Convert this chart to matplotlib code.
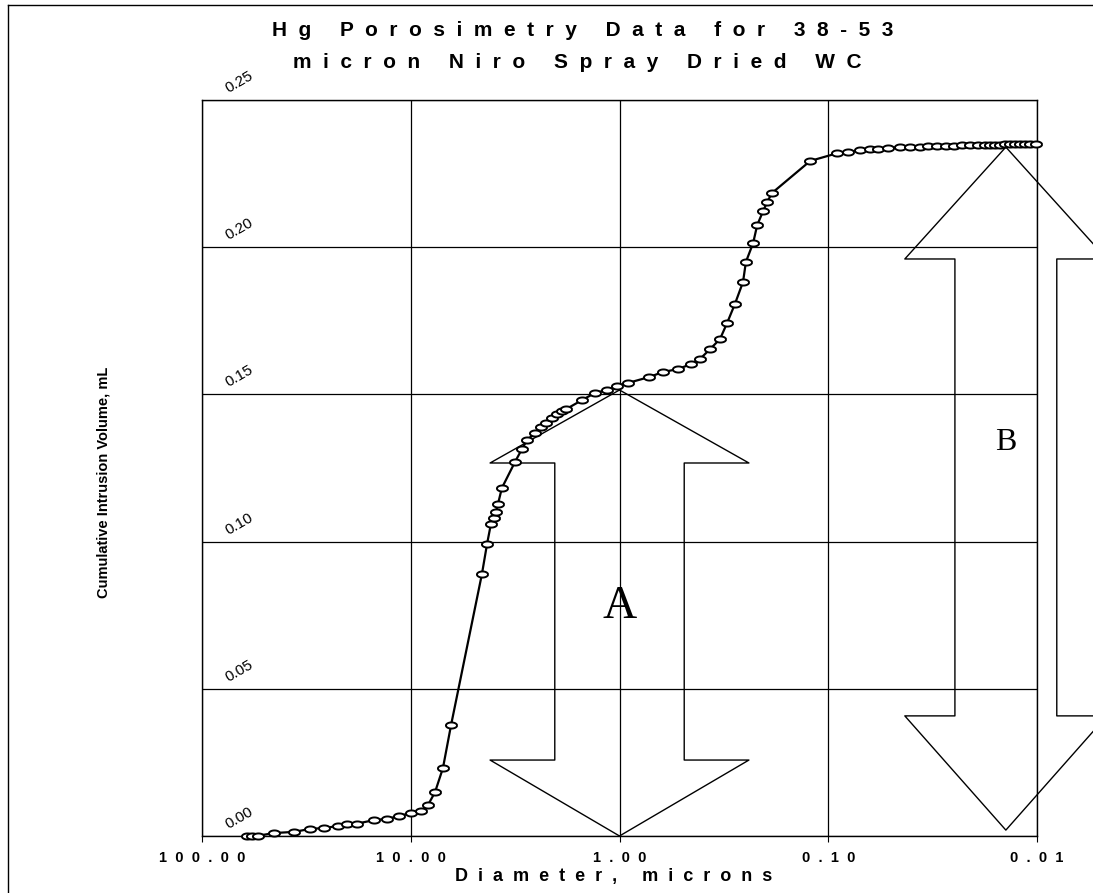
import numpy as np
import matplotlib
matplotlib.use('Agg')
import matplotlib.pyplot as plt
from matplotlib.path import Path
from matplotlib.lines import Line2D

# Hg intrusion data
diameter_um = [60.9, 57.6, 53.9, 45.2, 36.2, 30.4, 26.0, 22.3, 20.2, 18.1,
               15.0, 13.0, 11.4, 9.97, 8.93, 8.27, 7.65, 7.01, 6.41, 4.56,
               4.31, 4.13, 3.99, 3.91, 3.82, 3.66, 3.17, 2.93, 2.77, 2.54,
               2.38, 2.25, 2.11, 1.99, 1.89, 1.80, 1.51, 1.31, 1.15, 1.03,
               0.91, 0.72, 0.62, 0.525, 0.454, 0.412, 0.368, 0.330, 0.305, 0.280,
               0.256, 0.248, 0.229, 0.219, 0.205, 0.196, 0.186, 0.122, 0.0908, 0.0804,
               0.0705, 0.0631, 0.0578, 0.0518, 0.0453, 0.0406, 0.0363, 0.0333, 0.0301, 0.0273,
               0.0250, 0.0229, 0.0209, 0.0192, 0.0177, 0.0168, 0.0159, 0.0150, 0.0142, 0.0135,
               0.0127, 0.0121, 0.0114, 0.0108, 0.0101]
volume_ml = [0.0000, 0.0000, 0.0001, 0.0010, 0.0014, 0.0024, 0.0027, 0.0034, 0.0041, 0.0042,
             0.0054, 0.0058, 0.0068, 0.0078, 0.0085, 0.0105, 0.0149, 0.0231, 0.0377, 0.0890,
             0.0992, 0.1060, 0.1080, 0.1101, 0.1128, 0.1182, 0.1270, 0.1315, 0.1345, 0.1369,
             0.1389, 0.1403, 0.1420, 0.1433, 0.1444, 0.1450, 0.1481, 0.1505, 0.1515, 0.1529,
             0.1539, 0.1559, 0.1576, 0.1586, 0.1603, 0.1620, 0.1654, 0.1688, 0.1743, 0.1807,
             0.1882, 0.1950, 0.2014, 0.2075, 0.2123, 0.2154, 0.2184, 0.2293, 0.2319, 0.2322,
             0.2330, 0.2332, 0.2333, 0.2336, 0.2340, 0.2341, 0.2342, 0.2343, 0.2344, 0.2345,
             0.2345, 0.2346, 0.2346, 0.2347, 0.2347, 0.2348, 0.2348, 0.2348, 0.2349, 0.2349,
             0.2349, 0.2350, 0.2350, 0.2350, 0.2351]

x_ticks = [100, 10, 1, 0.1, 0.01]
x_tick_labels = ['100.00', '10.00', '1.00', '0.10', '0.01']
y_ticks = [0.00, 0.05, 0.10, 0.15, 0.20, 0.25]
y_tick_labels = ['0.00', '0.05', '0.10', '0.15', '0.20', '0.25']

# block arrows: centre diameter, tip top, head base top, head base bottom, tip bottom
arrow_a = dict(center=1.0, top=0.1515, head_top=0.1267, head_bot=0.0258, bot=0.0,
               head=0.62, shaft=0.31)
arrow_b = dict(center=0.0141, top=0.234, head_top=0.196, head_bot=0.0408, bot=0.002,
               head=0.484, shaft=0.244)

plt.rcParams['font.family'] = ['Liberation Sans', 'DejaVu Sans']

fig = plt.figure(figsize=(10.93, 8.93), dpi=100, facecolor='white')
ax = fig.add_axes([202 / 1093, 57 / 893, 835 / 1093, 736 / 893])

ax.set_xscale('log')
ax.set_xlim(100, 0.01)
ax.set_ylim(0, 0.25)

# grid
ax.set_xticks(x_ticks)
ax.set_xticklabels(['  '.join(t) for t in x_tick_labels], fontsize=10.5, fontweight='bold')
ax.xaxis.set_minor_locator(matplotlib.ticker.NullLocator())
ax.tick_params(axis='x', direction='out', length=4, width=0.8, pad=7)
ax.set_yticks(y_ticks)
ax.tick_params(axis='y', length=0, labelleft=False)
ax.grid(True, color='black', linewidth=0.9)
ax.set_axisbelow(True)
for s in ax.spines.values():
    s.set_linewidth(1.0)

# rotated y labels sitting on the gridlines
for v, lab in zip(y_ticks, y_tick_labels):
    ax.text(0.033, v + 0.0015, lab, transform=ax.get_yaxis_transform(),
            rotation=30, fontsize=11, ha='left', va='bottom',
            rotation_mode='anchor', clip_on=False)


# outline block arrows
def draw_arrow(a):
    c = np.log10(a['center'])
    h, s = a['head'], a['shaft']
    xs = [c, c + h, c + s, c + s, c + h, c, c - h, c - s, c - s, c - h, c]
    ys = [a['top'], a['head_top'], a['head_top'], a['head_bot'], a['head_bot'], a['bot'],
          a['head_bot'], a['head_bot'], a['head_top'], a['head_top'], a['top']]
    ax.plot(10 ** np.array(xs), ys, color='black', linewidth=1.0, clip_on=False, zorder=2)


draw_arrow(arrow_a)
draw_arrow(arrow_b)
ax.text(1.0, 0.0778, 'A', family='Liberation Serif', fontsize=34, ha='center', va='center', zorder=2)
ax.text(0.0141, 0.1335, 'B', family='Liberation Serif', fontsize=23, ha='center', va='center', zorder=2)

# ellipse marker
t = np.linspace(0, 2 * np.pi, 40)
ell = Path(np.column_stack([np.cos(t), 0.55 * np.sin(t)]))
ax.plot(diameter_um, volume_ml, color='black', linewidth=1.6, marker=ell,
        markersize=8, markerfacecolor='white', markeredgecolor='black',
        markeredgewidth=1.4, clip_on=False, zorder=3)

# titles and axis labels
fig.text(583 / 1093, 1 - 30 / 893, '  '.join('Hg Porosimetry Data for 38-53'),
         fontsize=15, fontweight='bold', ha='center', va='center')
fig.text(577 / 1093, 1 - 63 / 893, '  '.join('micron Niro Spray Dried WC'),
         fontsize=15, fontweight='bold', ha='center', va='center')
fig.text(614 / 1093, 1 - 877 / 893, '  '.join('Diameter, microns'),
         fontsize=13, fontweight='bold', ha='center', va='center')
fig.text(103 / 1093, 1 - 482 / 893, 'Cumulative Intrusion Volume, mL',
         fontsize=10.5, fontweight='bold', rotation=90, ha='center', va='center')

# outer frame (top and left edges visible)
fig.add_artist(Line2D([8 / 1093, 8 / 1093], [0, 1 - 5 / 893], color='black', linewidth=1.0,
                      transform=fig.transFigure))
fig.add_artist(Line2D([8 / 1093, 1], [1 - 5 / 893, 1 - 5 / 893], color='black', linewidth=1.0,
                      transform=fig.transFigure))

fig.savefig('out.png', dpi=100)
